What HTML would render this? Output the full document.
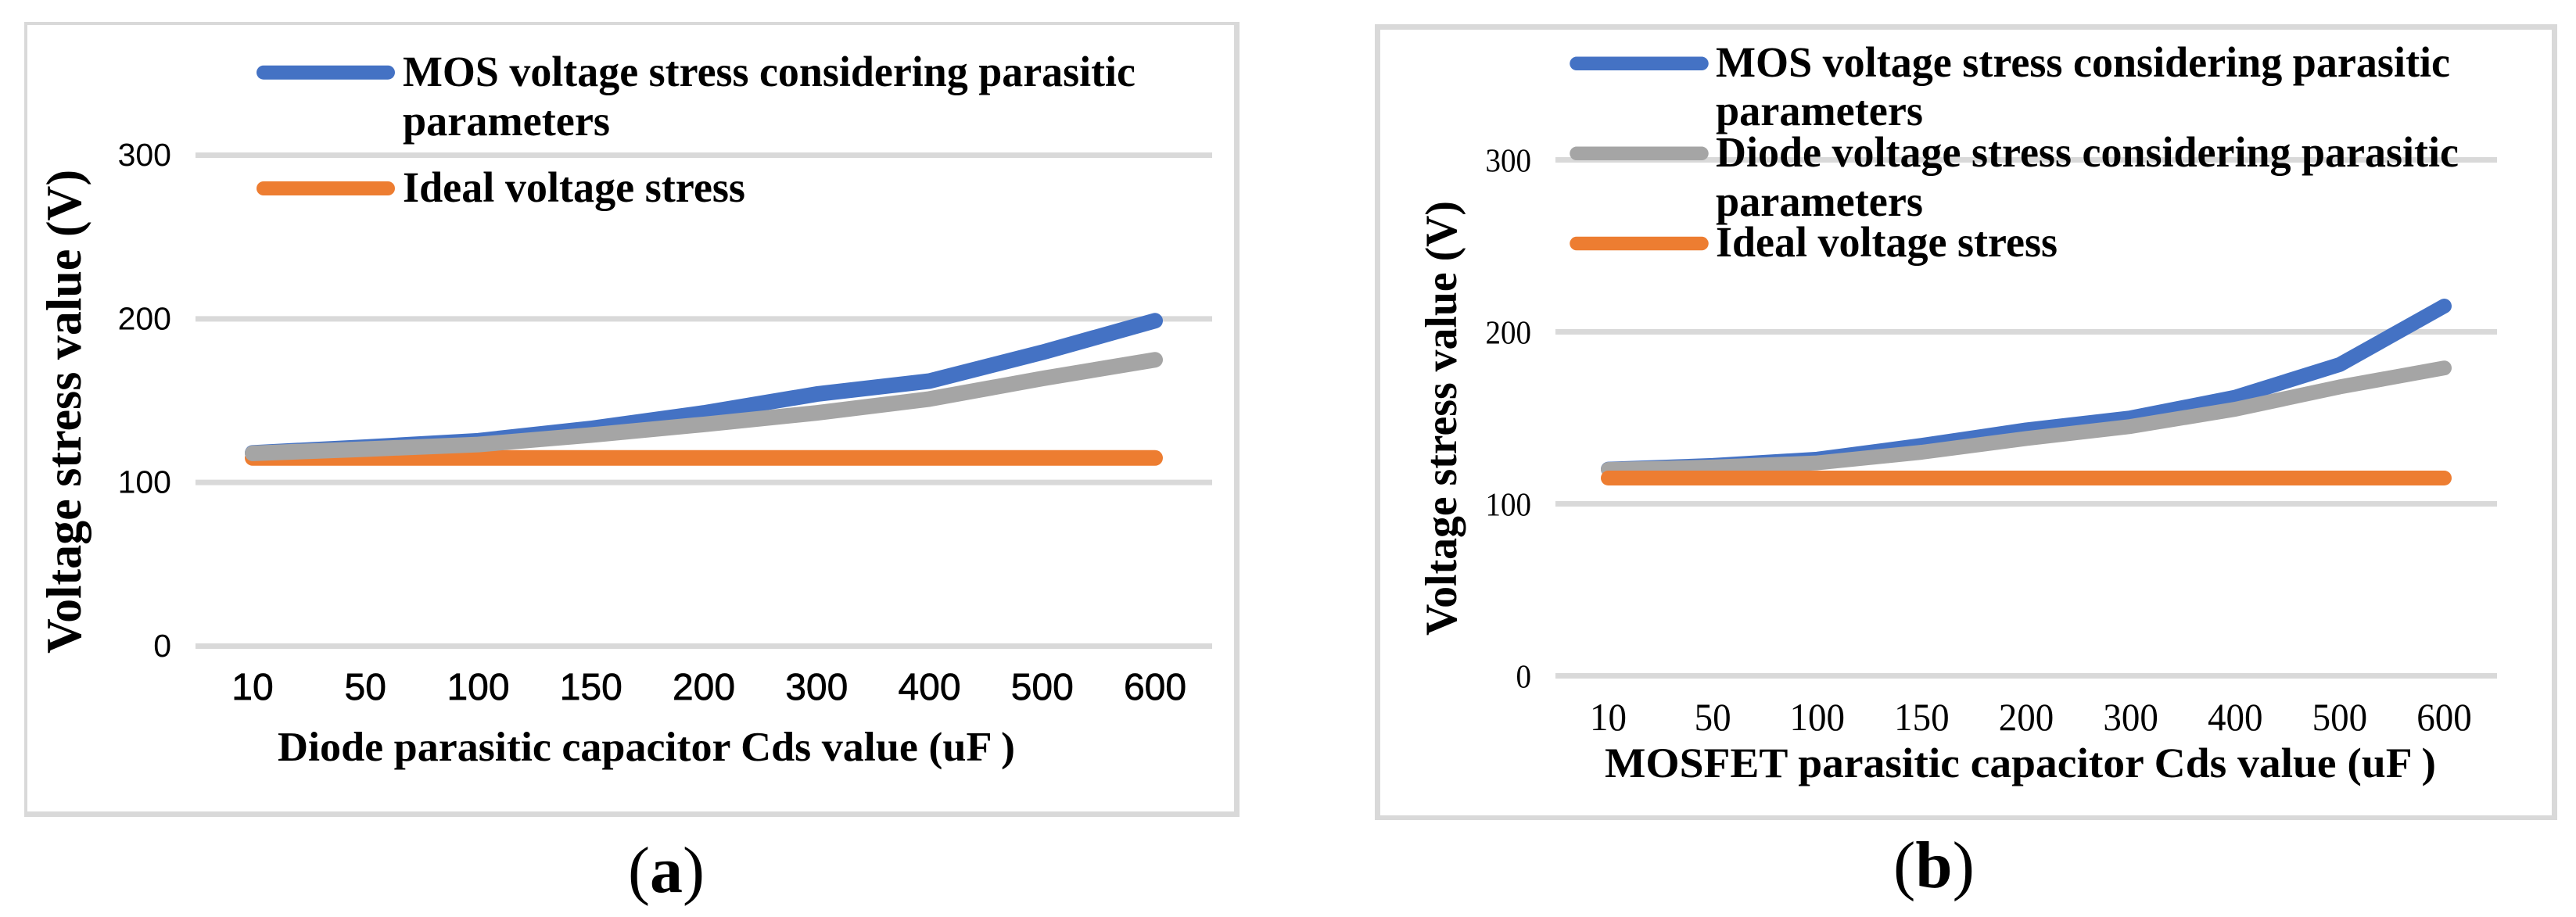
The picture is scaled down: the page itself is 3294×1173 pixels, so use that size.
<!DOCTYPE html>
<html>
<head>
<meta charset="utf-8">
<style>
html,body{margin:0;padding:0;background:#fff;}
svg{display:block;}
.serif{font-family:"Liberation Serif",serif;font-weight:bold;fill:#000;}
.leg{font-size:55px;}
</style>
</head>
<body>
<svg id="figure" xmlns="http://www.w3.org/2000/svg" width="3294" height="1173" viewBox="0 0 3294 1173">
  <g>
    <rect x="31" y="28" width="1554" height="1017" fill="#d9d9d9"/>
    <rect x="35" y="32" width="1543" height="1006" fill="#fff"/>
  </g>
  <g>
    <rect x="1758" y="31" width="1512" height="1018" fill="#d9d9d9"/>
    <rect x="1765" y="38" width="1498" height="1005" fill="#fff"/>
  </g>
  <g id="chart-a"></g>
  <g id="chart-b"></g>

  <g>
    <line x1="337" y1="92.7" x2="496" y2="92.7" stroke="#4472c4" stroke-width="18" stroke-linecap="round"/>
    <text class="serif leg" x="515" y="110" textLength="937" lengthAdjust="spacingAndGlyphs">MOS voltage stress considering parasitic</text>
    <text class="serif leg" x="515" y="173" textLength="265" lengthAdjust="spacingAndGlyphs">parameters</text>
    <line x1="337" y1="241" x2="496" y2="241" stroke="#ed7d31" stroke-width="18" stroke-linecap="round"/>
    <text class="serif leg" x="515" y="258" textLength="438" lengthAdjust="spacingAndGlyphs">Ideal voltage stress</text>
  </g>
  <g>
    <line x1="2016" y1="81.3" x2="2176" y2="81.3" stroke="#4472c4" stroke-width="17.5" stroke-linecap="round"/>
    <text class="serif leg" x="2194" y="98" textLength="939" lengthAdjust="spacingAndGlyphs">MOS voltage stress considering parasitic</text>
    <text class="serif leg" x="2194" y="160" textLength="265" lengthAdjust="spacingAndGlyphs">parameters</text>
    <line x1="2016" y1="196.3" x2="2176" y2="196.3" stroke="#a5a5a5" stroke-width="17.5" stroke-linecap="round"/>
    <text class="serif leg" x="2194" y="213" textLength="950" lengthAdjust="spacingAndGlyphs">Diode voltage stress considering parasitic</text>
    <text class="serif leg" x="2194" y="276" textLength="265" lengthAdjust="spacingAndGlyphs">parameters</text>
    <line x1="2016" y1="311.5" x2="2176" y2="311.5" stroke="#ed7d31" stroke-width="17.5" stroke-linecap="round"/>
    <text class="serif leg" x="2194" y="328" textLength="437" lengthAdjust="spacingAndGlyphs">Ideal voltage stress</text>
  </g>

  <text class="serif" font-size="63" transform="translate(103,836) rotate(-90)" textLength="619" lengthAdjust="spacingAndGlyphs">Voltage stress value (V)</text>
  <text class="serif" font-size="57" transform="translate(1862,813) rotate(-90)" textLength="556" lengthAdjust="spacingAndGlyphs">Voltage stress value (V)</text>
  <text class="serif" font-size="53" x="355" y="973" textLength="943" lengthAdjust="spacingAndGlyphs">Diode parasitic capacitor Cds value (uF )</text>
  <text class="serif" font-size="54" x="2052" y="994" textLength="1063" lengthAdjust="spacingAndGlyphs">MOSFET parasitic capacitor Cds value (uF )</text>

  <text font-family="'Liberation Serif',serif" font-size="84" x="852" y="1141" text-anchor="middle">(<tspan font-weight="bold">a</tspan>)</text>
  <text font-family="'Liberation Serif',serif" font-size="85" x="2473" y="1135" text-anchor="middle">(<tspan font-weight="bold">b</tspan>)</text>
</svg>
<script>
var categories = ['10','50','100','150','200','300','400','500','600'];
var yTickValues = [0,100,200,300];

var chartAMos = [118.1,121.6,125.5,133,142.5,154,162,179.5,198.8];
var chartADiode = [117.8,120.4,123.2,129,135.5,142.5,151,163.5,175];
var chartAIdeal = [115,115,115,115,115,115,115,115,115];

var chartBMos = [120.2,122.3,126,134,143,150,162,181,215];
var chartBDiode = [120,121.4,123.8,130,138,145,155,168,179];
var chartBIdeal = [115,115,115,115,115,115,115,115,115];

var SVGNS = 'http://www.w3.org/2000/svg';

function mk(parent, tag, attrs, name) {
  var el = document.createElementNS(SVGNS, tag);
  for (var k in attrs) el.setAttribute(k, attrs[k]);
  
  
  parent.appendChild(el);
  return el;
}

function drawChart(id, box, seriesList) {
  var root = document.getElementById(id);
  function xScale(i) { return box.x0 + (box.x1 - box.x0) * i / (categories.length - 1); }
  function yScale(v) { return box.y0 + (box.y300 - box.y0) * v / 300; }

  yTickValues.forEach(function (t) {
    mk(root, 'line', {x1: box.gx0, x2: box.gx1, y1: yScale(t), y2: yScale(t), stroke: '#d9d9d9', 'stroke-width': box.gridW}, id + '-gridline-' + t);
    var s = String(t);
    var attrs = {x: box.yLabelX, y: yScale(t) + box.yLabelDy, 'text-anchor': 'end', fill: '#000', style: 'font-family:' + box.tickFont + ';font-size:' + box.yFont + 'px'};
    if (box.yCharW) {
      attrs.textLength = s.length * box.yCharW;
      attrs.lengthAdjust = 'spacingAndGlyphs';
    }
    var lbl = mk(root, 'text', attrs, id + '-y-tick-' + t);
    lbl.textContent = s;
  });

  categories.forEach(function (c, i) {
    var attrs = {x: xScale(i), y: box.xLabelY, 'text-anchor': 'middle', fill: '#000', stroke: '#000', 'stroke-width': box.xStroke, style: 'font-family:' + box.tickFont + ';font-size:' + box.xFont + 'px'};
    if (box.xCharW) {
      attrs.textLength = c.length * box.xCharW;
      attrs.lengthAdjust = 'spacingAndGlyphs';
    }
    var lbl = mk(root, 'text', attrs, id + '-x-tick-' + c);
    lbl.textContent = c;
  });

  seriesList.forEach(function (s) {
    var pts = s.values.map(function (v, i) { return xScale(i).toFixed(1) + ',' + yScale(v).toFixed(1); }).join(' ');
    mk(root, 'polyline', {points: pts, fill: 'none', stroke: s.color, 'stroke-width': box.lineW, 'stroke-linecap': 'round', 'stroke-linejoin': 'round'}, id + '-series-' + s.key);
  });
}

drawChart('chart-a',
  {x0: 323, x1: 1477, y0: 826.5, y300: 198.5, gx0: 250, gx1: 1550, gridW: 7, lineW: 20, yLabelX: 219, yLabelDy: 13.5, yFont: 41, xFont: 48, xLabelY: 895, xStroke: 0.7, tickFont: "'Liberation Sans',sans-serif"},
  [
    {key: 'mos', values: chartAMos, color: '#4472c4'},
    {key: 'ideal', values: chartAIdeal, color: '#ed7d31'},
    {key: 'diode', values: chartADiode, color: '#a5a5a5'}
  ]);

drawChart('chart-b',
  {x0: 2056.5, x1: 3125.5, y0: 864.5, y300: 204.5, gx0: 1989, gx1: 3193, gridW: 7, lineW: 19, yLabelX: 1958, yLabelDy: 15, yFont: 42, yCharW: 19.5, xFont: 50, xCharW: 23.5, xLabelY: 934, xStroke: 0, tickFont: "'Liberation Serif',serif"},
  [
    {key: 'mos', values: chartBMos, color: '#4472c4'},
    {key: 'diode', values: chartBDiode, color: '#a5a5a5'},
    {key: 'ideal', values: chartBIdeal, color: '#ed7d31'}
  ]);
</script>
</body>
</html>
